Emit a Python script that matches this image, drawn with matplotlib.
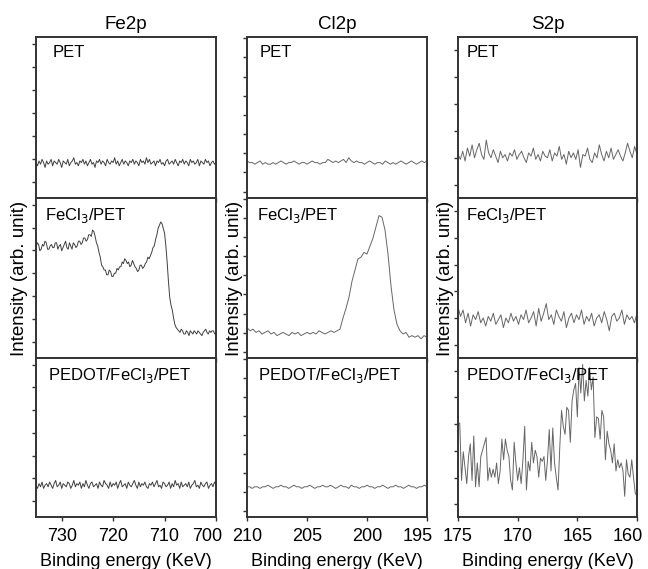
import numpy as np
import matplotlib
matplotlib.use("Agg")
import matplotlib.pyplot as plt
import matplotlib.transforms as mtransforms

plt.rcParams['font.family'] = ['Liberation Sans', 'DejaVu Sans']

fe_pet = [22,20,23,21,24,22,19,23,21,22,24,20,23,22,21,24,22,19,23,22,21,24,20,22,23,25,21,22,20,23,
          22,24,21,23,20,22,24,21,22,19,23,22,24,21,23,22,20,24,22,21,23,22,25,21,23,20,22,24,21,23,
          22,20,23,22,24,21,23,22,20,24,22,23,21,25,22,24,21,22,23,20,23,22,24,21,22,20,23,24,21,22,
          23,21,24,22,20,23,22,24,21,23,22,20,24,22,23,21,22,24,20,23,22,21,24,22,23,20,22,23,21,22]
fe_fecl3 = [69,72,71,67,68,71,70,73,72,68,68,70,71,69,69,72,72,68,70,71,67,69,71,73,69,68,72,70,68,72,
            71,69,70,73,73,71,72,75,75,73,74,77,77,76,80,79,76,72,70,66,63,58,57,55,55,52,52,55,54,51,
            51,53,53,56,55,57,57,60,59,62,61,59,60,57,58,61,59,57,56,54,55,58,58,56,57,59,60,63,62,64,
            66,69,70,74,77,81,83,85,84,81,78,70,60,48,38,33,30,25,21,19,18,17,16,18,17,15,15,17,16,14,
            17,16,15,17,16,15,17,16,15,14,16,17,18,16,15,17,16,17,17,15,15]
fe_pedot = [20,18,21,19,22,18,20,21,19,22,20,18,21,23,19,20,22,18,21,20,19,22,21,18,20,23,19,21,20,22,
            18,21,19,23,20,18,21,22,19,20,21,18,22,20,19,23,21,20,18,22,19,21,20,22,18,21,23,19,20,21,
            18,22,20,19,21,23,20,18,22,19,21,20,22,19,18,21,20,22,19,21,23,19,20,18,22,21,19,20,22,18,
            21,19,23,20,21,18,22,19,20,21,19,22,18,20,21,23,19,20,18,22,20,19,21,22,18,20,21,19,22,20]

cl_pet = [23,22,22,21,22,23,21,22,21,21,22,21,22,23,22,21,22,22,23,22,21,22,22,21,22,23,22,22,21,22,
          22,24,23,22,23,22,23,24,22,25,23,22,23,22,22,21,22,23,22,21,22,22,21,23,22,21,22,21,22,23,
          22,21,22,23,22,21,22,23,22,23]
cl_fecl3 = [19,17,18,16,17,15,16,17,15,16,14,15,16,15,14,16,15,16,14,15,16,15,16,15,17,16,15,16,17,16,
            17,18,25,31,38,48,55,62,63,66,65,70,75,82,89,88,80,65,45,30,21,17,15,16,13,14,13,14,12,14,13]
cl_pedot = [19,19,18,19,19,18,19,19,20,19,18,19,19,20,19,19,18,19,20,19,19,18,19,19,20,19,18,19,19,20,
            19,19,20,19,18,19,20,19,19,18,20,19,19,18,19,19,20,19,19,18,19,19,20,19,18,19,19,20,19,19,
            18,19,20,19,19,18,19,19,20,19]

s_pet = [27,24,29,23,31,26,33,25,30,34,27,24,36,28,25,30,26,22,29,25,27,23,28,26,30,24,27,29,25,22,
         28,26,31,24,27,23,29,26,25,30,23,28,26,32,24,27,21,29,25,28,24,30,19,27,26,31,24,22,28,25,
         33,27,23,29,25,31,24,27,30,26,23,28,34,29,25,32,27]
s_fecl3 = [32,26,30,22,28,20,27,24,29,22,25,20,26,23,28,21,24,27,19,25,22,28,23,26,21,27,24,30,22,25,
           29,20,31,23,28,34,24,27,21,30,26,23,29,19,25,28,22,27,24,30,21,26,23,28,20,25,27,22,29,24,
           17,26,28,23,25,30,21,27,24,26,22,28]
s_pedot = [59,59,23,41,31,21,38,46,23,51,19,34,19,38,42,46,50,23,31,25,30,25,34,21,29,49,36,49,42,38,
           23,17,47,34,23,31,21,36,57,17,35,29,47,34,42,38,25,37,35,38,23,36,55,29,56,34,25,17,44,67,
           57,52,69,67,47,73,80,84,63,94,78,96,73,86,76,94,80,88,50,63,62,49,67,63,36,54,46,42,34,46,
           29,36,31,34,29,13,36,27,25,36,25,15,13]

titles = ['Fe2p', 'Cl2p', 'S2p']
sample_labels = ['PET', 'FeCl$_3$/PET', 'PEDOT/FeCl$_3$/PET']
xranges = [(735, 700), (210, 195), (175, 160)]
xticks = [[730, 720, 710, 700], [210, 205, 200, 195], [175, 170, 165, 160]]
yticks = [np.arange(10, 100, 14.3), np.arange(4, 100, 11.9), np.arange(8, 100, 16.8)]
columns = [[fe_pet, fe_fecl3, fe_pedot], [cl_pet, cl_fecl3, cl_pedot], [s_pet, s_fecl3, s_pedot]]
colors = ['#404040', '#666666', '#666666']

fig = plt.figure(figsize=(6.48, 5.69), dpi=100)

lefts = [36/648, 247/648, 458/648]
widths = [180/648, 180/648, 179/648]
bottoms = [(569-198)/569, (569-358)/569, (569-517)/569]
heights = [161/569, 160/569, 159/569]
label_x = [[0.09, 0.05, 0.067], [0.072, 0.055, 0.06], [0.05, 0.045, 0.045]]
ylabel_x = [-0.047, -0.025, -0.025]

# last tick label sits a bit left of its tick in the original
shift_left = mtransforms.ScaledTranslation(-9/100, 0, fig.dpi_scale_trans)

for c in range(3):
    for r in range(3):
        ax = fig.add_axes([lefts[c], bottoms[r], widths[c], heights[r]])
        y = columns[c][r]
        x = np.linspace(xranges[c][0], xranges[c][1], len(y))
        ax.plot(x, y, color=colors[c], linewidth=0.7)
        ax.set_xlim(*xranges[c])
        ax.set_ylim(0, 100)
        ax.set_xticks(xticks[c])
        ax.set_yticks(yticks[c])
        ax.set_yticklabels([])
        ax.tick_params(axis='both', direction='out', length=3, width=1, color='#333333',
                       labelsize=13, pad=5)
        for s in ax.spines.values():
            s.set_linewidth(1.4)
            s.set_color('#333333')
        if r < 2:
            ax.set_xticklabels([])
        else:
            ax.set_xlabel('Binding energy (KeV)', fontsize=13, labelpad=6)
            last = ax.get_xticklabels()[-1]
            last.set_transform(last.get_transform() + shift_left)
        if r == 0:
            ax.set_title(titles[c], fontsize=13.5, pad=6)
        if r == 1:
            ax.set_ylabel('Intensity (arb. unit)', fontsize=13.5)
            ax.yaxis.set_label_coords(ylabel_x[c], 0.5)
        ax.text(label_x[c][r], 0.95, sample_labels[r], transform=ax.transAxes,
                fontsize=12, va='top', ha='left')

fig.savefig('out.png', dpi=100)
